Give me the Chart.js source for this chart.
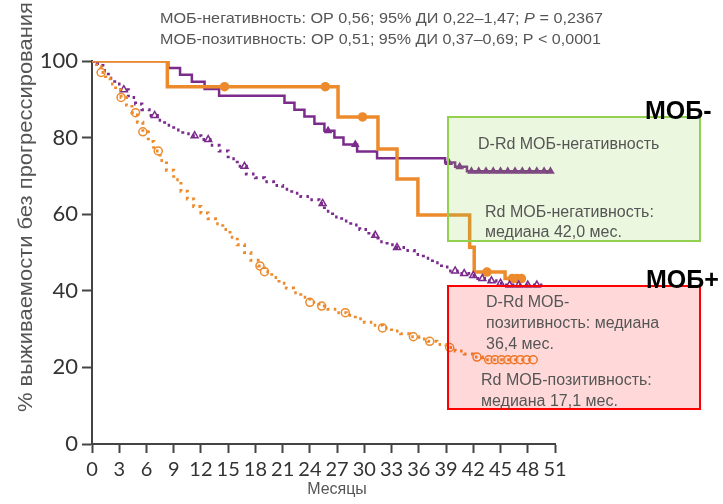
<!DOCTYPE html>
<html>
<head>
<meta charset="utf-8">
<script src="https://cdn.jsdelivr.net/npm/chart.js@4.4.1/dist/chart.umd.min.js"></script>
<style>
  html, body { margin: 0; padding: 0; background: #fff; }
  #wrap { width: 723px; height: 504px; }
</style>
</head>
<body>
<div id="wrap"><canvas id="pfsChart" width="723" height="504"></canvas></div>
<script>
// Kaplan-Meier PFS curves, D-Rd vs Rd, split by MRD status
// Curves are drawn as stepped lines (step happens at each event time)

const monthTicks = [0, 3, 6, 9, 12, 15, 18, 21, 24, 27, 30, 33, 36, 39, 42, 45, 48, 51];
const valueTicks = [0, 20, 40, 60, 80, 100];

// Rd, MRD-negative (solid orange)
const rdNegMonths = [0, 8.3, 27.1, 31.5, 33.6, 35.9, 41.6, 42.1, 45.5, 47.8];
const rdNegValues = [100, 93.3, 85.4, 77.0, 69.2, 59.8, 51.4, 44.9, 43.2, 43.2];
const rdNegCensored = [14.6, 25.7, 29.8, 43.5, 46.3, 46.8, 47.3];

// D-Rd, MRD-negative (solid purple)
const drdNegMonths = [0, 8.4, 9.7, 11.0, 12.4, 14.0, 21.2, 22.3, 23.4, 24.5, 25.6, 26.7, 27.7, 29.2, 31.4, 38.9, 40.0, 41.3, 50.6];
const drdNegValues = [100, 98.2, 96.4, 94.6, 92.7, 90.9, 89.1, 87.3, 85.5, 83.6, 81.8, 80.0, 78.2, 76.4, 74.6, 73.5, 72.4, 71.2, 71.2];
const drdNegCensored = [26.0, 29.0, 39.3, 40.5, 41.8, 42.6, 43.4, 44.2, 45.0, 45.8, 46.6, 47.4, 48.2, 49.0, 49.8, 50.5];

// D-Rd, MRD-positive (dotted purple)
const drdPosMonths = [0, 0.6, 1.2, 1.8, 2.5, 3.2, 4.0, 4.8, 5.5, 6.3, 7.2, 8.0, 9.0, 10.0, 11.0, 12.0, 13.0, 14.0, 15.0, 16.0, 17.0, 18.0, 19.0, 20.0, 21.0, 22.0, 23.0, 24.0, 25.0, 25.6, 26.5, 27.5, 28.5, 29.5, 30.5, 31.5, 32.5, 33.5, 34.5, 35.5, 36.5, 37.5, 38.5, 39.3, 40.5, 41.5, 42.5, 43.5, 44.5, 45.5, 49.7];
const drdPosValues = [100, 98.8, 97.5, 95.5, 94.0, 92.5, 90.5, 88.8, 87.3, 85.8, 84.5, 83.2, 82.0, 81.0, 80.5, 79.5, 78.0, 76.5, 74.5, 72.5, 70.5, 69.5, 68.5, 67.5, 66.5, 65.5, 64.6, 63.8, 62.8, 60.8, 59.3, 58.2, 57.2, 56.0, 54.5, 52.8, 52.0, 51.3, 50.5, 49.5, 48.5, 47.3, 46.2, 45.2, 44.5, 44.0, 43.2, 42.6, 42.0, 41.5, 41.5];
const drdPosCensored = [3.5, 6.9, 11.3, 12.8, 16.8, 25.4, 31.2, 33.6, 40.0, 41.0, 42.0, 43.0, 44.0, 45.0, 46.0, 47.0, 48.0, 49.0];

// Rd, MRD-positive (dotted orange)
const rdPosMonths = [0, 0.5, 1.0, 1.5, 2.0, 2.6, 3.2, 3.8, 4.4, 5.0, 5.6, 6.2, 6.8, 7.5, 8.2, 9.0, 9.8, 10.5, 11.2, 12.0, 12.8, 13.6, 14.4, 15.2, 16.0, 16.8, 17.5, 18.3, 19.0, 19.8, 20.6, 21.4, 22.2, 23.0, 24.0, 25.0, 26.0, 27.0, 28.0, 29.0, 30.0, 31.0, 32.0, 33.0, 34.0, 35.0, 36.0, 37.0, 38.0, 39.0, 40.0, 41.0, 42.0, 43.0, 48.6];
const rdPosValues = [100, 98.5, 97.0, 95.5, 94.0, 92.5, 90.5, 88.5, 86.5, 84.0, 81.5, 79.0, 76.5, 74.0, 71.5, 69.0, 66.0, 64.0, 62.0, 60.3, 58.8, 57.5, 56.0, 54.0, 52.0, 50.0, 48.0, 46.5, 45.0, 43.5, 42.0, 40.7, 39.5, 38.3, 37.0, 36.0, 35.2, 34.3, 33.6, 32.7, 31.8, 31.0, 30.3, 29.5, 28.8, 28.0, 27.4, 26.8, 26.0, 25.2, 24.3, 23.5, 22.7, 22.0, 22.0];
const rdPosCensored = [1.0, 3.2, 4.8, 5.6, 7.3, 18.5, 19.0, 24.0, 25.3, 27.9, 32.0, 35.4, 37.2, 39.4, 42.4, 43.7, 44.4, 45.1, 45.8, 46.5, 47.2, 47.9, 48.6];

const ORANGE = '#ec8a2c';
const PURPLE = '#7b2b8c';

function toPoints(months, values) {
    return months.map((m, i) => ({ x: m, y: values[i] }));
}

// value of the step curve at time t
function curveAt(months, values, t) {
    let v = values[0];
    for (let i = 0; i < months.length; i++) {
        if (months[i] <= t) v = values[i];
    }
    return v;
}

function censorPoints(times, months, values) {
    return times.map(t => ({ x: t, y: curveAt(months, values, t) }));
}

function stepLine(months, values, color, width, dashed) {
    return {
        data: toPoints(months, values),
        borderColor: color,
        borderWidth: width,
        borderDash: dashed ? [2.5, 4.5] : [],
        stepped: true,
        pointRadius: 0,
        fill: false
    };
}

function marks(times, months, values, style, color, fillColor, radius) {
    return {
        data: censorPoints(times, months, values),
        showLine: false,
        pointStyle: style,
        pointRadius: radius,
        pointBorderColor: color,
        pointBackgroundColor: fillColor,
        pointBorderWidth: 1.5
    };
}

// draw text squeezed horizontally to a given width
function fitText(ctx, parts, x, y, width) {
    let total = 0;
    parts.forEach(p => { ctx.font = p.font; total += ctx.measureText(p.text).width; });
    const k = width / total;
    ctx.save();
    ctx.translate(x, y);
    ctx.scale(k, 1);
    let cx = 0;
    parts.forEach(p => {
        ctx.font = p.font;
        ctx.fillText(p.text, cx, 0);
        cx += ctx.measureText(p.text).width;
    });
    ctx.restore();
}

const annotations = {
    id: 'annotations',
    afterDraw(chart) {
        const ctx = chart.ctx;
        ctx.save();
        ctx.textBaseline = 'alphabetic';
        ctx.textAlign = 'left';

        // HR header
        ctx.fillStyle = '#555';
        const hdr = '15px "Liberation Sans", Arial, sans-serif';
        const hdrIt = 'italic 15px "Liberation Sans", Arial, sans-serif';
        fitText(ctx, [
            { text: 'МОБ-негативность: ОР 0,56; 95% ДИ 0,22–1,47; ', font: hdr },
            { text: 'P', font: hdrIt },
            { text: ' = 0,2367', font: hdr }
        ], 160, 23, 443);
        fitText(ctx, [
            { text: 'МОБ-позитивность: ОР 0,51; 95% ДИ 0,37–0,69; P < 0,0001', font: hdr }
        ], 160, 44, 441);

        // y axis title
        ctx.save();
        ctx.translate(32, 412);
        ctx.rotate(-Math.PI / 2);
        ctx.fillStyle = '#555';
        fitText(ctx, [{ text: '% выживаемости без прогрессирования', font: '21px "Liberation Sans", Arial, sans-serif' }], 0, 0, 410);
        ctx.restore();

        // x axis title
        ctx.fillStyle = '#555';
        ctx.font = '16px "Liberation Sans", Arial, sans-serif';
        ctx.textAlign = 'center';
        ctx.fillText('Месяцы', 337, 494);
        ctx.textAlign = 'left';

        // legend boxes
        ctx.fillStyle = 'rgba(146, 208, 80, 0.18)';
        ctx.fillRect(448, 117, 252, 124);
        ctx.strokeStyle = '#92d050';
        ctx.lineWidth = 2;
        ctx.strokeRect(448, 117, 252, 124);

        ctx.fillStyle = 'rgba(255, 0, 0, 0.15)';
        ctx.fillRect(448, 286, 252, 123);
        ctx.strokeStyle = '#ff0000';
        ctx.strokeRect(448, 286, 252, 123);

        ctx.fillStyle = '#555';
        ctx.font = '16px "Liberation Sans", Arial, sans-serif';
        ctx.textBaseline = 'middle';
        ctx.fillText('D-Rd МОБ-негативность', 478, 145);
        ctx.fillText('Rd МОБ-негативность:', 485, 213);
        ctx.fillText('медиана 42,0 мес.', 485, 233);
        ctx.fillText('D-Rd МОБ-', 486, 303);
        ctx.fillText('позитивность: медиана', 486, 324);
        ctx.fillText('36,4 мес.', 486, 345);
        ctx.fillText('Rd МОБ-позитивность:', 481, 381);
        ctx.fillText('медиана 17,1 мес.', 481, 402);

        // group labels
        ctx.fillStyle = '#000';
        ctx.font = 'bold 25px "Liberation Sans", Arial, sans-serif';
        ctx.fillText('МОБ-', 645, 112);
        ctx.fillText('МОБ+', 646, 281);
        ctx.restore();
    }
};

new Chart(document.getElementById('pfsChart'), {
    type: 'line',
    data: {
        datasets: [
            stepLine(rdPosMonths, rdPosValues, ORANGE, 3, true),
            marks(rdPosCensored, rdPosMonths, rdPosValues, 'circle', ORANGE, 'rgba(255,255,255,0.7)', 4),
            stepLine(drdPosMonths, drdPosValues, PURPLE, 3, true),
            marks(drdPosCensored, drdPosMonths, drdPosValues, 'triangle', PURPLE, 'rgba(255,255,255,0.7)', 4),
            stepLine(rdNegMonths, rdNegValues, ORANGE, 3.5, false),
            marks(rdNegCensored, rdNegMonths, rdNegValues, 'circle', ORANGE, ORANGE, 4),
            stepLine(drdNegMonths, drdNegValues, PURPLE, 2.5, false),
            marks(drdNegCensored, drdNegMonths, drdNegValues, 'triangle', PURPLE, PURPLE, 3.5)
        ]
    },
    options: {
        responsive: false,
        animation: false,
        layout: { padding: { left: 0, right: 168, top: 61, bottom: 0 } },
        plugins: {
            legend: { display: false },
            tooltip: { enabled: false }
        },
        scales: {
            x: {
                type: 'linear',
                min: 0,
                max: 51,
                afterBuildTicks: s => { s.ticks = monthTicks.map(v => ({ value: v })); },
                afterFit: s => { s.height = 60; },
                grid: { drawOnChartArea: false, tickLength: 9, tickColor: '#444', tickWidth: 2 },
                border: { color: '#444', width: 2 },
                ticks: {
                    font: { family: 'Lato', size: 20 },
                    color: '#333',
                    padding: 5,
                    maxRotation: 0,
                    autoSkip: false
                }
            },
            y: {
                type: 'linear',
                min: 0,
                max: 100,
                afterBuildTicks: s => { s.ticks = valueTicks.map(v => ({ value: v })); },
                afterFit: s => { s.width = 92; },
                grid: { drawOnChartArea: false, tickLength: 10, tickColor: '#444', tickWidth: 2 },
                border: { color: '#444', width: 2 },
                ticks: {
                    font: { family: 'Lato', size: 22 },
                    color: '#333',
                    padding: 4
                }
            }
        }
    },
    plugins: [annotations]
});
</script>
</body>
</html>
